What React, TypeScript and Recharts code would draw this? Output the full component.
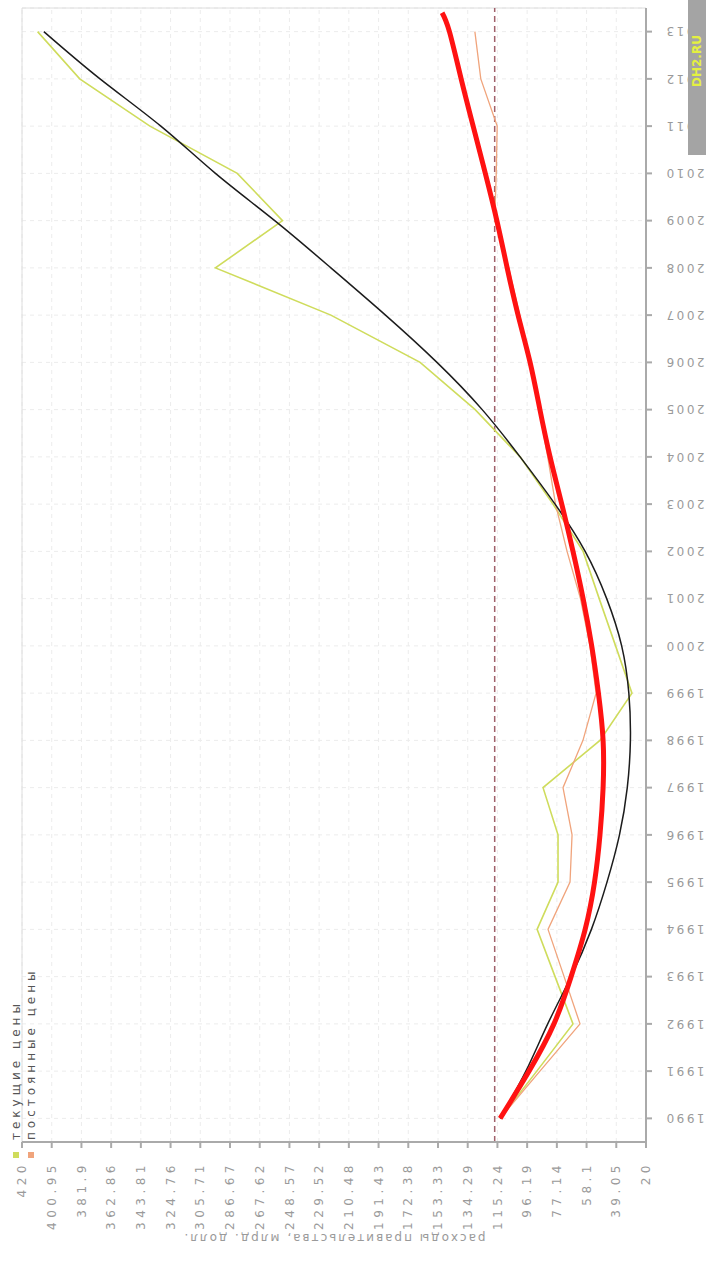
import React from "react";
import {
  CartesianGrid,
  Legend,
  Line,
  LineChart,
  ReferenceLine,
  XAxis,
  YAxis,
} from "recharts";

// original chart is landscape, the picture shows it turned a quarter to the left
const W = 1282;
const H = 706;

const YEARS = [
  1990, 1991, 1992, 1993, 1994, 1995, 1996, 1997, 1998, 1999, 2000, 2001,
  2002, 2003, 2004, 2005, 2006, 2007, 2008, 2009, 2010, 2011, 2012, 2013,
];

// текущие цены
const CURRENT = [
  113.5, 90, 66.8, 78.3, 89.8, 76.4, 76.4, 86, 49.5, 29, 39.5, 50, 60.3,
  79.6, 100.7, 129.5, 164.8, 222, 296, 253, 282, 338, 383, 410,
];

// постоянные цены
const CONSTANT = [
  113.5, 88, 62.3, 72.5, 82.8, 68.7, 67.4, 73.2, 60.4, 52, 55.9, 62, 70.6,
  78, 83, 88.5, 94, 101, 108, 117, 116, 115.4, 125.9, 129.7,
];

// trend for current prices (black)
const CURRENT_TREND = [
  113.5, 97, 83, 68, 55, 45, 37, 32, 30, 31, 35.6, 45.2, 59, 78.3, 100.7,
  125, 154, 187, 222, 258, 296, 331, 370, 406,
];

// trend for constant prices (red), runs a little past 2013
const CONSTANT_TREND_YEARS = [...YEARS, 2013.4];
const CONSTANT_TREND = [
  113.5, 95, 79, 68, 59, 53, 49.5, 47.5, 47.5, 50.5, 54.8, 60.3, 66.8, 74,
  81.5, 88, 94.3, 102, 109, 115.6, 123, 130.8, 138.5, 146, 150.7,
];

const MEAN_LINE = 117;

const VALUE_TICKS = [
  420, 400.95, 381.9, 362.86, 343.81, 324.76, 305.71, 286.67, 267.62, 248.57,
  229.52, 210.48, 191.43, 172.38, 153.33, 134.29, 115.24, 96.19, 77.14, 58.1,
  39.05, 20,
];

const SERIES_NAMES = ["текущие цены", "постоянные цены"];
const SERIES_COLORS = ["#cfdc5c", "#f0a47c"];

const FONT = "'DejaVu Sans', Verdana, sans-serif";
const TEXT = "#9a9a9a";

const toPoints = (xs: number[], ys: number[]) =>
  xs.map((year, i) => ({ year, value: ys[i] }));

function YearTick({ x, y, payload }: any) {
  return (
    <g transform={`translate(${x},${y})`}>
      <text
        x={-10}
        y={0}
        dy="0.35em"
        transform="rotate(-90)"
        textAnchor="end"
        fill={TEXT}
        fontSize={12}
        fontFamily={FONT}
        style={{ letterSpacing: "2.5px" }}
      >
        {payload.value}
      </text>
    </g>
  );
}

function ValueTick({ x, y, payload }: any) {
  return (
    <text
      x={x - 11}
      y={y}
      dy="0.35em"
      textAnchor="end"
      fill={TEXT}
      fontSize={12}
      fontFamily={FONT}
      style={{ letterSpacing: "4.5px" }}
    >
      {payload.value}
    </text>
  );
}

function LegendBox() {
  return (
    <div style={{ fontFamily: FONT, fontSize: 12, color: "#555", letterSpacing: 4 }}>
      {SERIES_NAMES.map((name, i) => (
        <div key={name} style={{ display: "flex", alignItems: "center", height: 15 }}>
          <span
            style={{
              width: 6,
              height: 6,
              background: SERIES_COLORS[i],
              display: "inline-block",
              marginRight: 12,
            }}
          />
          {name}
        </div>
      ))}
    </div>
  );
}

export default function App() {
  return (
    <div
      style={{
        position: "fixed",
        top: 0,
        left: 0,
        width: H,
        height: W,
        overflow: "hidden",
        background: "#fff",
      }}
    >
      <div
        style={{
          position: "absolute",
          top: 0,
          left: 0,
          width: W,
          height: H,
          transformOrigin: "0 0",
          transform: `translateY(${W}px) rotate(-90deg)`,
        }}
      >
        <LineChart width={W} height={H} margin={{ top: 22, right: 8, bottom: 0, left: 0 }}>
          <CartesianGrid stroke="#ececec" strokeDasharray="4 4" />
          <XAxis
            dataKey="year"
            type="number"
            domain={[1989.5, 2013.5]}
            ticks={YEARS}
            allowDataOverflow
            height={60}
            tick={<YearTick />}
            tickSize={6}
            stroke="#aaa"
            strokeWidth={2}
          />
          <YAxis
            type="number"
            domain={[20, 420]}
            ticks={VALUE_TICKS}
            allowDataOverflow
            width={110}
            tick={<ValueTick />}
            tickSize={6}
            stroke="#aaa"
            strokeWidth={2}
            label={{
              value: "расходы правительства, млрд. долл.",
              angle: -90,
              position: "insideLeft",
              offset: 14,
              fill: TEXT,
              fontSize: 12,
              fontFamily: FONT,
              letterSpacing: 2,
              style: { textAnchor: "middle" },
            }}
          />
          <ReferenceLine y={420} stroke="#dedede" />
          <ReferenceLine x={2013.5} stroke="#dedede" />
          <ReferenceLine y={MEAN_LINE} stroke="#a0606a" strokeDasharray="6 4" strokeWidth={1.5} />
          <Legend
            verticalAlign="top"
            align="left"
            layout="vertical"
            wrapperStyle={{ top: 8, left: 124, width: "auto" }}
            content={() => <LegendBox />}
          />
          <Line
            data={toPoints(YEARS, CURRENT)}
            dataKey="value"
            name={SERIES_NAMES[0]}
            type="linear"
            stroke={SERIES_COLORS[0]}
            strokeWidth={1.6}
            dot={false}
            isAnimationActive={false}
          />
          <Line
            data={toPoints(YEARS, CONSTANT)}
            dataKey="value"
            name={SERIES_NAMES[1]}
            type="linear"
            stroke={SERIES_COLORS[1]}
            strokeWidth={1.3}
            dot={false}
            isAnimationActive={false}
          />
          <Line
            data={toPoints(YEARS, CURRENT_TREND)}
            dataKey="value"
            name="тренд текущие"
            type="natural"
            stroke="#1c1c1c"
            strokeWidth={1.5}
            dot={false}
            legendType="none"
            isAnimationActive={false}
          />
          <Line
            data={toPoints(CONSTANT_TREND_YEARS, CONSTANT_TREND)}
            dataKey="value"
            name="тренд постоянные"
            type="natural"
            stroke="#ff1212"
            strokeWidth={5}
            dot={false}
            legendType="none"
            isAnimationActive={false}
          />
        </LineChart>
        <div
          style={{
            position: "absolute",
            left: 1127,
            top: 688,
            width: 155,
            height: 18,
            background: "#a4a4a4",
            color: "#e4f040",
            fontFamily: FONT,
            fontSize: 12,
            fontWeight: "bold",
            lineHeight: "18px",
            paddingLeft: 68,
            boxSizing: "border-box",
          }}
        >
          DH2.RU
        </div>
      </div>
    </div>
  );
}
